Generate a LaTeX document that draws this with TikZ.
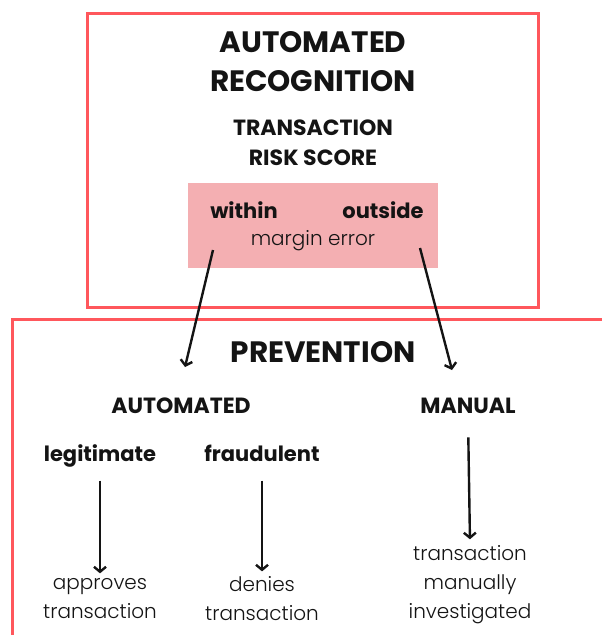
\documentclass[tikz,border=0pt]{standalone}
\usepackage{fontspec}
\setmainfont{Poppins}
\IfFontExistsTF{Poppins Light}{\newfontfamily\lightfont{Poppins Light}}{\newfontfamily\lightfont{Poppins}}
\usetikzlibrary{arrows.meta,positioning}
\definecolor{coral}{RGB}{255,87,92}
\definecolor{blush}{RGB}{244,175,178}
\definecolor{ink}{RGB}{20,20,20}
\tikzset{
  >={Straight Barb[length=5pt,width=12pt]},
  frame/.style={draw=coral,line width=3pt},
  title/.style={font=\bfseries\fontsize{29.5}{39}\selectfont,text=ink,align=center},
  head/.style={font=\bfseries\fontsize{22}{30}\selectfont,text=ink,align=center},
  choice/.style={font=\bfseries\fontsize{21}{28}\selectfont,text=ink,align=center,
    text height=15pt,text depth=5pt},
  note/.style={font=\lightfont\fontsize{20}{29}\selectfont,text=ink,align=center},
  flow/.style={->,line width=2.4pt,draw=ink},
}
\begin{document}
\begin{tikzpicture}[x=1pt,y=-1pt]
  \useasboundingbox (0,0) rectangle (602,635);
  % recognition frame
  \draw[frame] (87,13) rectangle (538,307);
  \fill[blush] (188,183) rectangle (438,268);
  \node[title] (recog) at (313,62) {AUTOMATED\\RECOGNITION};
  \node[head] (score) at (313,143) {TRANSACTION\\RISK SCORE};
  \node[choice] (within) at (244,213) {within};
  \node[choice] (outside) at (383,213) {outside};
  \node[note] (margin) at (313,241) {margin error};
  % prevention frame
  \draw[frame] (12,319) rectangle (640,660);
  \node[title] (prev) at (323,352) {PREVENTION};
  \node[head] (auto) at (181,406) {AUTOMATED};
  \node[head] (manual) at (468,406) {MANUAL};
  \node[choice] (legit) at (100,456) {legitimate};
  \node[choice] (fraud) at (262,456) {fraudulent};
  \node[note] (approve) at (100,599) {approves\\transaction};
  \node[note] (deny) at (262,599) {denies\\transaction};
  \node[note] (invest) at (470,585) {transaction\\manually\\investigated};
  % arrows
  \coordinate (w0) at (213,250);
  \coordinate (w1) at (185,367);
  \coordinate (o0) at (420,248);
  \coordinate (o1) at (452,370);
  \draw[flow] (w0) -- (w1);
  \draw[flow] (o0) -- (o1);
  \draw[flow,shorten <=11pt,shorten >=2pt] (legit.south) -- (approve.north);
  \draw[flow,shorten <=11pt,shorten >=2pt] (fraud.south) -- (deny.north);
  \draw[flow,shorten <=20pt,shorten >=3pt] (manual.south) -- (invest.north);
\end{tikzpicture}
\end{document}
